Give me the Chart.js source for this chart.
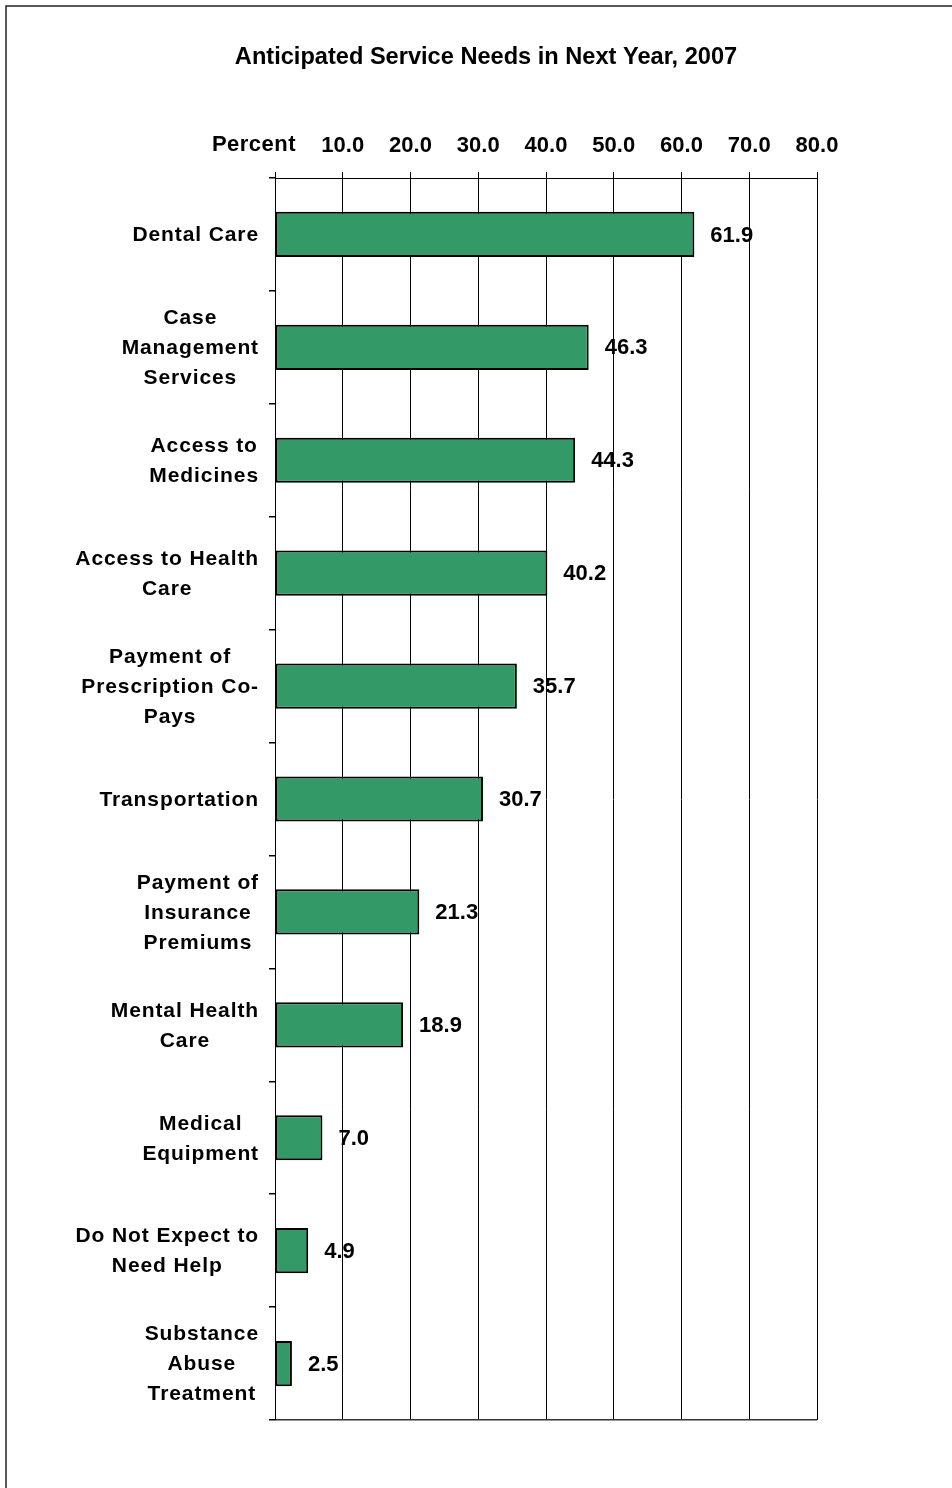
<!DOCTYPE html>
<html>
<head>
<meta charset="utf-8">
<script src="https://cdn.jsdelivr.net/npm/chart.js@4"></script>
<style>
  html, body { margin: 0; padding: 0; background: #fff; }
  canvas { display: block; }
</style>
</head>
<body>
<canvas id="needsChart" width="952" height="1488"></canvas>
<script>
const chartTitle = 'Anticipated Service Needs in Next Year, 2007';
const axisLabel = 'Percent';

const categories = [
  ['Dental Care'],
  ['Case', 'Management', 'Services'],
  ['Access to', 'Medicines'],
  ['Access to Health', 'Care'],
  ['Payment of', 'Prescription Co-', 'Pays'],
  ['Transportation'],
  ['Payment of', 'Insurance', 'Premiums'],
  ['Mental Health', 'Care'],
  ['Medical', 'Equipment'],
  ['Do Not Expect to', 'Need Help'],
  ['Substance', 'Abuse', 'Treatment']
];
const percents = [61.9, 46.3, 44.3, 40.2, 35.7, 30.7, 21.3, 18.9, 7.0, 4.9, 2.5];
const tickValues = [10, 20, 30, 40, 50, 60, 70, 80];

const FONT = "'Liberation Sans', Arial, sans-serif";

// labels, values, title and frame are painted on top of the bars
const overlay = {
  id: 'overlay',
  afterDraw(chart) {
    const ctx = chart.ctx;
    const x = chart.scales.x;
    const y = chart.scales.y;
    ctx.save();
    ctx.fillStyle = '#000';

    // frame around the page
    ctx.strokeStyle = '#222';
    ctx.lineWidth = 1.5;
    ctx.beginPath();
    ctx.moveTo(6, chart.height);
    ctx.lineTo(6, 6);
    ctx.lineTo(chart.width, 6);
    ctx.stroke();

    ctx.textBaseline = 'middle';
    ctx.font = 'bold 23.6px ' + FONT;
    ctx.textAlign = 'center';
    ctx.fillText(chartTitle, 486, 57);

    ctx.font = 'bold 22px ' + FONT;
    ctx.letterSpacing = '0.5px';
    ctx.fillText(axisLabel, x.getPixelForValue(0) - 21, 145);

    // category names: each block is centred on itself and right-aligned to the axis
    ctx.font = 'bold 21px ' + FONT;
    ctx.letterSpacing = '0.9px';
    const lineH = 30;
    categories.forEach((lines, i) => {
      const widest = Math.max(...lines.map(l => ctx.measureText(l).width));
      const cx = x.left - 16 - widest / 2;
      const cy = y.getPixelForValue(i) + 1;
      lines.forEach((l, k) => {
        ctx.fillText(l, cx, cy + (k - (lines.length - 1) / 2) * lineH);
      });
    });

    // value at the end of each bar
    ctx.font = 'bold 22px ' + FONT;
    ctx.letterSpacing = '0px';
    ctx.textAlign = 'left';
    percents.forEach((v, i) => {
      ctx.fillText(v.toFixed(1), x.getPixelForValue(v) + 16, y.getPixelForValue(i) + 1);
    });
    ctx.restore();
  }
};

new Chart(document.getElementById('needsChart'), {
  type: 'bar',
  data: {
    labels: categories,
    datasets: [{
      data: percents,
      backgroundColor: '#339966',
      borderColor: '#000',
      borderWidth: 2,
      borderSkipped: false,
      barPercentage: 0.4,
      categoryPercentage: 1.0
    }]
  },
  options: {
    indexAxis: 'y',
    responsive: false,
    animation: false,
    layout: { padding: { left: 0, top: 0, right: 135, bottom: 68 } },
    plugins: {
      legend: { display: false },
      tooltip: { enabled: false },
      title: { display: false }
    },
    scales: {
      x: {
        position: 'top',
        min: 0,
        max: 80,
        afterFit: s => { s.height = 178; },
        afterBuildTicks: s => {
          s.ticks = [0, ...tickValues].map(v => ({ value: v }));
        },
        border: { display: true, color: '#000', width: 1 },
        grid: {
          color: '#000',
          lineWidth: 1,
          drawTicks: true,
          tickLength: 6,
          tickColor: '#000'
        },
        ticks: {
          padding: 13,
          color: '#000',
          font: { family: FONT, size: 22, weight: 'bold' },
          callback: v => v === 0 ? '' : v.toFixed(1)
        }
      },
      y: {
        afterFit: s => { s.width = 275; },
        border: { display: true, color: '#000', width: 1 },
        grid: {
          offset: true,
          drawOnChartArea: true,
          color: c => c.type === 'tick' ? 'rgba(0,0,0,0)' : '#333',
          lineWidth: 1.5,
          drawTicks: true,
          tickLength: 6,
          tickColor: '#000'
        },
        ticks: { display: false }
      }
    }
  },
  plugins: [overlay]
});
</script>
</body>
</html>
